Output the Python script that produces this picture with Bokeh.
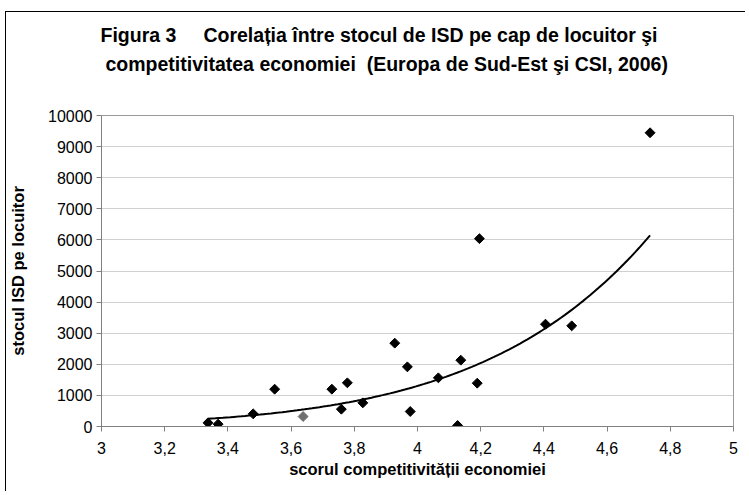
import numpy as np
from bokeh.plotting import figure
from bokeh.models import Range1d, FixedTicker, Title
from bokeh.embed import file_html
from bokeh.resources import INLINE

# Data
competitivitate = [3.337, 3.369, 3.48, 3.548, 3.729, 3.759, 3.778, 3.827, 3.928, 3.968,
                   3.977, 4.066, 4.137, 4.127, 4.189, 4.196, 4.405, 4.488, 4.736]
stoc_isd = [118, 75, 407, 1200, 1200, 557, 1404, 761, 2680, 1918,
            482, 1565, 2133, 32, 1393, 6040, 3290, 3237, 9445]
# one highlighted (grey) country
grey_x = [3.638]
grey_y = [321]

# power trendline y = y0 * (x / x0)^b
trend_b = 9.18
trend_x0 = 3.337
trend_y0 = 247

x_ticks = [3, 3.2, 3.4, 3.6, 3.8, 4, 4.2, 4.4, 4.6, 4.8, 5]
x_tick_labels = ["3", "3,2", "3,4", "3,6", "3,8", "4", "4,2", "4,4", "4,6", "4,8", "5"]
y_ticks = [0, 1000, 2000, 3000, 4000, 5000, 6000, 7000, 8000, 9000, 10000]

title_1 = "Figura 3\u00a0\u00a0\u00a0\u00a0 Corelația între stocul de ISD pe cap de locuitor şi"
title_2 = "competitivitatea economiei\u00a0 (Europa de Sud-Est şi CSI, 2006)"
x_label = "scorul competitivității economiei"
y_label = "stocul ISD pe locuitor"

FONT = "Liberation Sans"

p = figure(width=740, height=480, output_backend="svg", toolbar_location=None,
           x_range=Range1d(3, 5), y_range=Range1d(0, 10000),
           min_border_left=95, min_border_right=13, min_border_top=103, min_border_bottom=66)
p.margin = (11, 0, 0, 5)
p.styles = {"border-left": "1px solid black", "border-top": "1px solid black"}
p.background_fill_color = "white"
p.border_fill_color = "white"
p.outline_line_color = "#999999"
p.outline_line_width = 1

for ax in (p.xaxis[0], p.yaxis[0]):
    ax.axis_line_color = "#808080"
    ax.major_tick_line_color = "#808080"
    ax.major_tick_out = 5
    ax.major_tick_in = 0
    ax.minor_tick_line_color = None
    ax.major_label_text_font = FONT
    ax.major_label_text_font_size = "16px"
    ax.major_label_text_color = "black"
    ax.axis_label_text_font = FONT
    ax.axis_label_text_font_style = "bold"
    ax.axis_label_text_font_size = "16.5px"
    ax.axis_label_text_color = "black"

p.xaxis.ticker = FixedTicker(ticks=x_ticks)
p.xaxis.major_label_overrides = {t: l for t, l in zip(x_ticks, x_tick_labels)}
p.xaxis.major_label_standoff = 10
p.xaxis.axis_label = x_label
p.xaxis.axis_label_standoff = 3

p.yaxis.ticker = FixedTicker(ticks=y_ticks)
p.yaxis.major_label_standoff = 4
p.yaxis.axis_label = y_label
p.yaxis.axis_label_standoff = 18

p.xgrid.grid_line_color = None
p.ygrid.grid_line_color = "#d0d0d0"
p.ygrid.grid_line_width = 1

all_x = np.array(competitivitate + grey_x)
tx = np.linspace(all_x.min(), all_x.max(), 120)
ty = trend_y0 * (tx / trend_x0) ** trend_b
p.line(tx, ty, line_color="black", line_width=2)

p.scatter(competitivitate, stoc_isd, marker="square", angle=np.pi / 4, size=7,
          fill_color="black", line_color="black")
p.scatter(grey_x, grey_y, marker="square", angle=np.pi / 4, size=7,
          fill_color="#707070", line_color="#707070")

# titles (spacer nearest the frame, then line 2, then line 1)
p.add_layout(Title(text="\u00a0", text_font_size="30px", standoff=3), "above")
p.add_layout(Title(text=title_2, align="left", offset=4, text_font=FONT,
                   text_font_style="bold", text_font_size="19.5px", text_color="black",
                   standoff=6), "above")
p.add_layout(Title(text=title_1, align="left", offset=-1, text_font=FONT,
                   text_font_style="bold", text_font_size="19.5px", text_color="black",
                   standoff=4), "above")

open("out.html", "w").write(file_html(p, INLINE))
